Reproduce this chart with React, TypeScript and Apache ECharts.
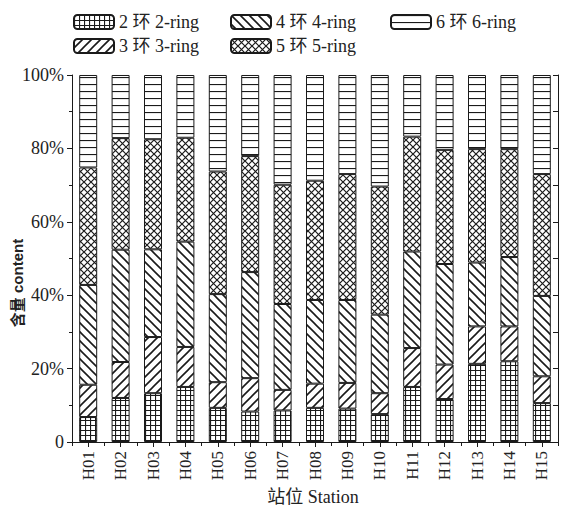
import React, { useEffect, useRef } from "react";
import * as echarts from "echarts";

const stations = ["H01", "H02", "H03", "H04", "H05", "H06", "H07", "H08", "H09", "H10", "H11", "H12", "H13", "H14", "H15"];
const seriesNames = ["2 环 2-ring", "3 环 3-ring", "4 环 4-ring", "5 环 5-ring", "6 环 6-ring"];
const ring2 = [6.8, 12.0, 13.3, 15.0, 9.3, 8.3, 8.6, 9.3, 9.1, 7.6, 15.0, 11.7, 21.3, 22.0, 10.6];
const ring3 = [8.8, 9.8, 15.3, 10.9, 7.0, 9.1, 5.6, 6.6, 7.0, 5.7, 10.6, 9.4, 10.2, 9.5, 7.3];
const ring4 = [27.2, 30.6, 23.9, 28.7, 24.0, 28.9, 23.4, 22.8, 22.6, 21.4, 26.3, 27.4, 17.4, 18.9, 21.9];
const ring5 = [32.0, 30.4, 30.0, 28.3, 33.4, 31.6, 32.5, 32.5, 34.3, 34.9, 31.3, 31.1, 30.9, 29.4, 33.2];
const ring6 = [25.2, 17.2, 17.5, 17.1, 26.3, 22.1, 29.9, 28.8, 27.0, 30.4, 16.8, 20.4, 20.2, 20.2, 27.0];
const yTicks = [0, 20, 40, 60, 80, 100];

const INK = "#1a1a1a";
const SERIF = "'Liberation Serif', 'Noto Sans CJK SC', serif";

function makePattern(kind: string) {
  const c = document.createElement("canvas");
  let w = 6, h = 6;
  if (kind === "grid") { w = 5; h = 5; }
  if (kind === "fwd" || kind === "back") { w = 9; h = 9; }
  if (kind === "cross") { w = 7; h = 7; }
  if (kind === "horiz") { w = 8; h = 7; }
  c.width = w; c.height = h;
  const ctx = c.getContext("2d")!;
  ctx.fillStyle = "#ffffff";
  ctx.fillRect(0, 0, w, h);
  ctx.strokeStyle = INK;
  ctx.lineWidth = 1;
  ctx.beginPath();
  if (kind === "grid") {
    ctx.lineWidth = 1.2;
    ctx.moveTo(0.5, 0); ctx.lineTo(0.5, h);
    ctx.moveTo(0, 0.5); ctx.lineTo(w, 0.5);
  } else if (kind === "fwd") {
    ctx.lineWidth = 1.6;
    ctx.moveTo(-1, h + 1); ctx.lineTo(w + 1, -1);
    ctx.moveTo(-2, 2); ctx.lineTo(2, -2);
    ctx.moveTo(w - 2, h + 2); ctx.lineTo(w + 2, h - 2);
  } else if (kind === "back") {
    ctx.lineWidth = 1.6;
    ctx.moveTo(-1, -1); ctx.lineTo(w + 1, h + 1);
    ctx.moveTo(w - 2, -2); ctx.lineTo(w + 2, 2);
    ctx.moveTo(-2, h - 2); ctx.lineTo(2, h + 2);
  } else if (kind === "cross") {
    ctx.lineWidth = 1.2;
    ctx.moveTo(-1, -1); ctx.lineTo(w + 1, h + 1);
    ctx.moveTo(-1, h + 1); ctx.lineTo(w + 1, -1);
  } else if (kind === "horiz") {
    ctx.lineWidth = 1.2;
    ctx.moveTo(0, 0.5); ctx.lineTo(w, 0.5);
  }
  ctx.stroke();
  return { image: c as any, repeat: "repeat", imageWidth: w, imageHeight: h } as any;
}

export default function App() {
  const ref = useRef<HTMLDivElement>(null);
  useEffect(() => {
    if (!ref.current) return;
    const chart = echarts.init(ref.current, null, { renderer: "svg" });
    const patterns = [makePattern("grid"), makePattern("fwd"), makePattern("back"), makePattern("cross"), makePattern("horiz")];
    const values = [ring2, ring3, ring4, ring5, ring6];
    const halfCats = stations.flatMap((s) => [s + "a", s + "b"]);
    const legendBase = {
      orient: "vertical" as const,
      top: 8,
      itemWidth: 40,
      itemHeight: 14,
      itemGap: 6,
      selectedMode: false,
      textStyle: { fontFamily: SERIF, fontSize: 18, color: "#222" },
    };
    chart.setOption({
      animation: false,
      backgroundColor: "#ffffff",
      grid: { left: 72, right: 4, top: 75, bottom: 68, containLabel: false },
      legend: [
        { ...legendBase, left: 68, data: [seriesNames[0], seriesNames[1]] },
        { ...legendBase, left: 225, data: [seriesNames[2], seriesNames[3]] },
        { ...legendBase, left: 385, data: [seriesNames[4]] },
      ],
      xAxis: [
        {
          type: "category",
          data: stations,
          position: "bottom",
          axisLine: { show: true, lineStyle: { color: INK, width: 1 } },
          axisTick: { show: true, alignWithLabel: true, length: 5, lineStyle: { color: INK } },
          axisLabel: { rotate: 90, interval: 0, margin: 9, fontFamily: SERIF, fontSize: 17, color: "#222" },
          splitLine: { show: false },
        },
        {
          type: "category",
          data: halfCats,
          position: "top",
          z: 5,
          axisLine: { show: true, lineStyle: { color: INK, width: 1 } },
          axisTick: { show: true, inside: true, interval: 0, length: 4, lineStyle: { color: INK } },
          axisLabel: { show: false, interval: 0 },
          splitLine: { show: false },
        },
        {
          type: "category",
          data: halfCats,
          position: "bottom",
          z: 5,
          axisLine: { show: true, lineStyle: { color: INK, width: 1 } },
          axisTick: { show: true, inside: false, interval: 0, length: 3, lineStyle: { color: INK } },
          axisLabel: { show: false, interval: 0 },
          splitLine: { show: false },
        },
      ],
      yAxis: [
        {
          type: "value",
          min: yTicks[0],
          max: yTicks[yTicks.length - 1],
          interval: 20,
          position: "left",
          axisLine: { show: true, lineStyle: { color: INK, width: 1 } },
          axisTick: { show: true, length: 5, lineStyle: { color: INK } },
          minorTick: { show: true, splitNumber: 2, length: 3, lineStyle: { color: INK } },
          splitLine: { show: false },
          axisLabel: {
            margin: 8,
            fontFamily: SERIF,
            fontSize: 18,
            color: "#222",
            formatter: (v: number) => (v === 0 ? "0" : v + "%"),
          },
        },
        {
          type: "value",
          min: 0,
          max: 100,
          interval: 10,
          position: "right",
          z: 5,
          axisLine: { show: true, lineStyle: { color: INK, width: 1 } },
          axisTick: { show: true, inside: true, length: 5, lineStyle: { color: INK } },
          axisLabel: { show: false },
          splitLine: { show: false },
        },
      ],
      series: values.map((vals, i) => ({
        name: seriesNames[i],
        type: "bar",
        stack: "total",
        xAxisIndex: 0,
        yAxisIndex: 0,
        barWidth: 18,
        data: vals,
        itemStyle: { color: patterns[i], borderColor: INK, borderWidth: 1 },
        emphasis: { disabled: true },
      })),
      graphic: [
        {
          type: "text",
          x: 17,
          y: 283,
          rotation: Math.PI / 2,
          style: {
            text: "含量 content",
            font: "bold 15px 'Liberation Sans', 'Noto Sans CJK SC', sans-serif",
            fill: "#222",
            textAlign: "center",
            textVerticalAlign: "middle",
          },
        },
        {
          type: "text",
          x: 313,
          y: 497,
          style: {
            text: "站位 Station",
            font: "18px 'Liberation Serif', 'Noto Sans CJK SC', serif",
            fill: "#222",
            textAlign: "center",
            textVerticalAlign: "middle",
          },
        },
      ],
    });
    return () => chart.dispose();
  }, []);
  return <div ref={ref} style={{ position: "fixed", left: 0, top: 0, width: 562, height: 510 }} />;
}
